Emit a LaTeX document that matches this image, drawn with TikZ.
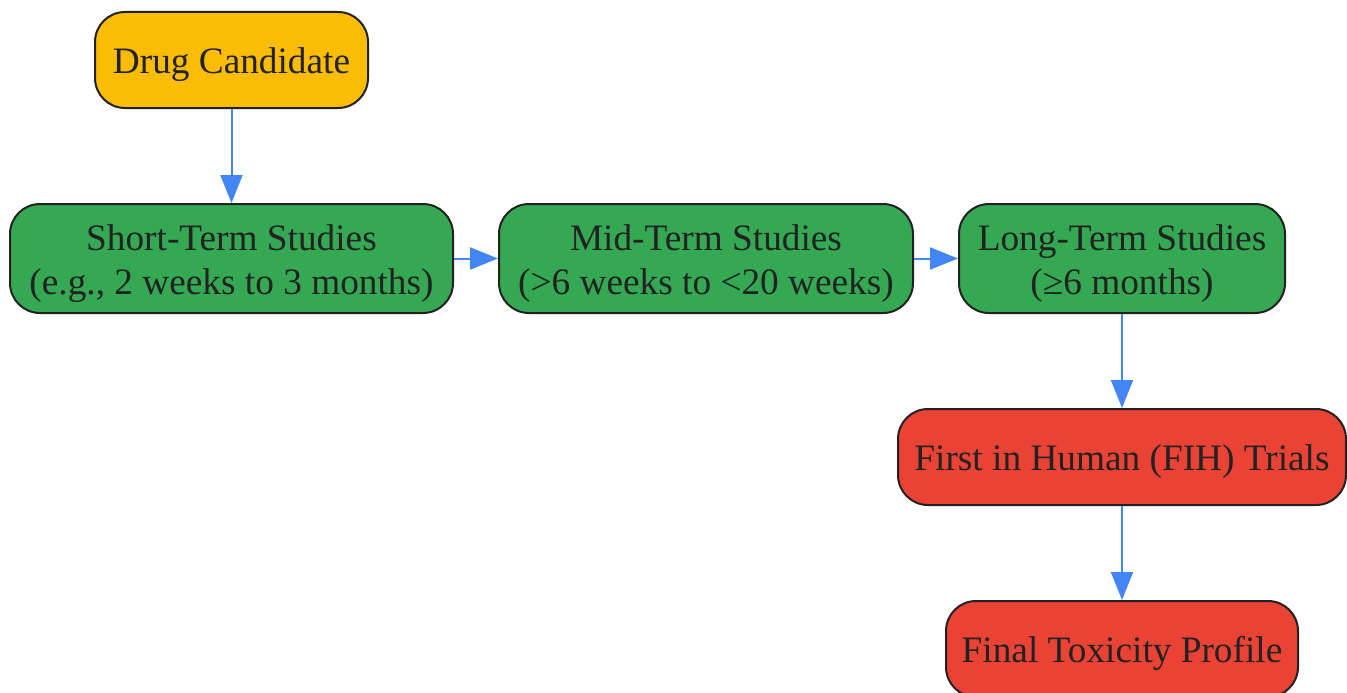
\documentclass[tikz,border=0pt]{standalone}
\usepackage{fontspec}
\setmainfont{Liberation Serif}
\usetikzlibrary{arrows.meta}
\definecolor{ylw}{HTML}{FBBC05}
\definecolor{grn}{HTML}{34A853}
\definecolor{rd}{HTML}{EA4335}
\definecolor{blu}{HTML}{4285F4}
\definecolor{edgec}{HTML}{222222}
\newcommand\boxtxt[1]{\raisebox{-5pt}[\height][\depth]{\begin{tabular}{@{}c@{}}#1\end{tabular}}}
\begin{document}
\begin{tikzpicture}[x=1pt,y=-1pt,
  box/.style={draw=edgec, line width=2pt, rounded corners=30pt, text=edgec,
    font=\fontsize{37.3}{44}\selectfont, inner sep=0pt},
  conn/.style={draw=blu, line width=2pt, -{Triangle[length=28pt,width=22pt]}}]
\useasboundingbox (0,0) rectangle (1347,693);
\node[box, fill=ylw, minimum width=273pt, minimum height=96pt] (drug) at (231.5,60) {\boxtxt{Drug Candidate}};
\node[box, fill=grn, minimum width=443pt, minimum height=109pt] (short) at (231.5,258.5) {\boxtxt{Short-Term Studies\\(e.g., 2 weeks to 3 months)}};
\node[box, fill=grn, minimum width=414pt, minimum height=109pt] (mid) at (706,258.5) {\boxtxt{Mid-Term Studies\\(>6 weeks to <20 weeks)}};
\node[box, fill=grn, minimum width=326pt, minimum height=109pt] (long) at (1122,258.5) {\boxtxt{Long-Term Studies\\(≥6 months)}};
\node[box, fill=rd, minimum width=448pt, minimum height=96pt] (fih) at (1122,457) {\boxtxt{First in Human (FIH) Trials}};
\node[box, fill=rd, minimum width=352pt, minimum height=96pt] (final) at (1122,649) {\boxtxt{Final Toxicity Profile}};
\draw[conn] (drug) -- (short);
\draw[conn] (short) -- (mid);
\draw[conn] (mid) -- (long);
\draw[conn] (long) -- (fih);
\draw[conn] (fih) -- (final);
\end{tikzpicture}
\end{document}
